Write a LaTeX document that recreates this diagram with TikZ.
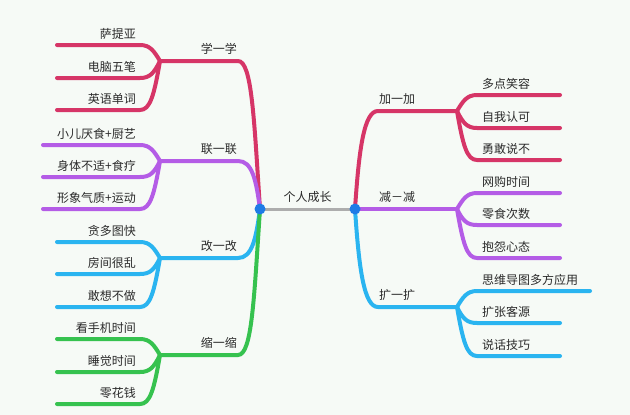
\documentclass[tikz,border=0pt]{standalone}
\usepackage{fontspec}
\setmainfont{Noto Sans CJK SC}
\usepackage{tikz}
\usetikzlibrary{positioning, calc}
\definecolor{rosebr}{HTML}{D63567}
\definecolor{lilacbr}{HTML}{B45CE6}
\definecolor{skybr}{HTML}{2AB4F0}
\definecolor{grassbr}{HTML}{36C24F}
\definecolor{hubblue}{HTML}{1E7BE6}
\definecolor{stembr}{HTML}{ADADAD}
\definecolor{bgtint}{HTML}{F6FAF6}
\definecolor{inkgray}{HTML}{2A2A2A}

\begin{document}
\begin{tikzpicture}[
  x=1pt, y=-1pt,
  txt/.style={inner sep=0pt, font=\fontsize{12}{14}\selectfont, text=inkgray},
  br/.style={line width=4pt, line cap=round},
  xuebr/.style={br, rosebr},
  lianbr/.style={br, lilacbr},
  gaibr/.style={br, skybr},
  suobr/.style={br, grassbr}
]
\fill[bgtint] (0,0) rectangle (630,415);

\coordinate (hubL) at (260,209);
\coordinate (hubR) at (355,209);

% left side
\coordinate (xue) at (238,61);   \coordinate (xueF) at (160,61);
\coordinate (xueA) at (140,45);  \coordinate (xueA0) at (57,45);
\coordinate (xueB) at (140,78);  \coordinate (xueB0) at (57,78);
\coordinate (xueC) at (140,110); \coordinate (xueC0) at (57,110);

\coordinate (lian) at (238,161);  \coordinate (lianF) at (160,161);
\coordinate (lianA) at (140,145); \coordinate (lianA0) at (43,145);
\coordinate (lianB) at (140,177); \coordinate (lianB0) at (43,177);
\coordinate (lianC) at (140,209); \coordinate (lianC0) at (43,209);

\coordinate (gai) at (238,258);  \coordinate (gaiF) at (160,258);
\coordinate (gaiA) at (140,242); \coordinate (gaiA0) at (57,242);
\coordinate (gaiB) at (140,274); \coordinate (gaiB0) at (57,274);
\coordinate (gaiC) at (140,307); \coordinate (gaiC0) at (57,307);

\coordinate (suo) at (238,355);  \coordinate (suoF) at (160,355);
\coordinate (suoA) at (140,339); \coordinate (suoA0) at (57,339);
\coordinate (suoB) at (140,372); \coordinate (suoB0) at (57,372);
\coordinate (suoC) at (140,404); \coordinate (suoC0) at (57,404);

% right side
\coordinate (jia) at (378,111);  \coordinate (jiaF) at (457,111);
\coordinate (jiaA) at (477,95);  \coordinate (jiaA0) at (560,95);
\coordinate (jiaB) at (477,128); \coordinate (jiaB0) at (560,128);
\coordinate (jiaC) at (477,160); \coordinate (jiaC0) at (560,160);

\coordinate (jian) at (378,209);  \coordinate (jianF) at (457,209);
\coordinate (jianA) at (477,193); \coordinate (jianA0) at (560,193);
\coordinate (jianB) at (477,225); \coordinate (jianB0) at (560,225);
\coordinate (jianC) at (477,258); \coordinate (jianC0) at (560,258);

\coordinate (kuo) at (378,307);  \coordinate (kuoF) at (457,307);
\coordinate (kuoA) at (477,291); \coordinate (kuoA0) at (590,291);
\coordinate (kuoB) at (477,323); \coordinate (kuoB0) at (560,323);
\coordinate (kuoC) at (477,356); \coordinate (kuoC0) at (560,356);

% branches
\draw[xuebr] (hubL) .. controls +(-6,-90) and +(14,0) .. (xue) -- (xueF);
\draw[xuebr] (xueF) .. controls +(-6,-10) and +(10,0) .. (xueA) -- (xueA0);
\draw[xuebr] (xueF) .. controls +(-6,12) and +(10,0) .. (xueB) -- (xueB0);
\draw[xuebr] (xueF) .. controls +(-6,35) and +(10,0) .. (xueC) -- (xueC0);

\draw[lianbr] (hubL) .. controls +(-4,-30) and +(14,0) .. (lian) -- (lianF);
\draw[lianbr] (lianF) .. controls +(-6,-10) and +(10,0) .. (lianA) -- (lianA0);
\draw[lianbr] (lianF) .. controls +(-6,12) and +(10,0) .. (lianB) -- (lianB0);
\draw[lianbr] (lianF) .. controls +(-6,35) and +(10,0) .. (lianC) -- (lianC0);

\draw[gaibr] (hubL) .. controls +(-4,30) and +(14,0) .. (gai) -- (gaiF);
\draw[gaibr] (gaiF) .. controls +(-6,-10) and +(10,0) .. (gaiA) -- (gaiA0);
\draw[gaibr] (gaiF) .. controls +(-6,12) and +(10,0) .. (gaiB) -- (gaiB0);
\draw[gaibr] (gaiF) .. controls +(-6,35) and +(10,0) .. (gaiC) -- (gaiC0);

\draw[suobr] (hubL) .. controls +(-6,90) and +(14,0) .. (suo) -- (suoF);
\draw[suobr] (suoF) .. controls +(-6,-10) and +(10,0) .. (suoA) -- (suoA0);
\draw[suobr] (suoF) .. controls +(-6,12) and +(10,0) .. (suoB) -- (suoB0);
\draw[suobr] (suoF) .. controls +(-6,35) and +(10,0) .. (suoC) -- (suoC0);

\draw[xuebr] (hubR) .. controls +(4,-60) and +(-14,0) .. (jia) -- (jiaF);
\draw[xuebr] (jiaF) .. controls +(6,-10) and +(-10,0) .. (jiaA) -- (jiaA0);
\draw[xuebr] (jiaF) .. controls +(6,12) and +(-10,0) .. (jiaB) -- (jiaB0);
\draw[xuebr] (jiaF) .. controls +(6,35) and +(-10,0) .. (jiaC) -- (jiaC0);

\draw[lianbr] (hubR) -- (jianF);
\draw[lianbr] (jianF) .. controls +(6,-10) and +(-10,0) .. (jianA) -- (jianA0);
\draw[lianbr] (jianF) .. controls +(6,12) and +(-10,0) .. (jianB) -- (jianB0);
\draw[lianbr] (jianF) .. controls +(6,35) and +(-10,0) .. (jianC) -- (jianC0);

\draw[gaibr] (hubR) .. controls +(4,60) and +(-14,0) .. (kuo) -- (kuoF);
\draw[gaibr] (kuoF) .. controls +(6,-10) and +(-10,0) .. (kuoA) -- (kuoA0);
\draw[gaibr] (kuoF) .. controls +(6,12) and +(-10,0) .. (kuoB) -- (kuoB0);
\draw[gaibr] (kuoF) .. controls +(6,35) and +(-10,0) .. (kuoC) -- (kuoC0);

% centre
\draw[line width=3pt, stembr] (hubL) -- (hubR);
\fill[hubblue] (hubL) circle (5.5pt);
\fill[hubblue] (hubR) circle (5.5pt);
\node[txt, above=6pt] (root) at ($(hubL)!.5!(hubR)$) {个人成长};

% labels
\node[txt, above left=6pt and 1pt of xue] (xueT) {学一学};
\node[txt, above left=5pt and 4pt of xueA] (xueAt) {萨提亚};
\node[txt, above left=5pt and 4pt of xueB] (xueBt) {电脑五笔};
\node[txt, above left=5pt and 4pt of xueC] (xueCt) {英语单词};

\node[txt, above left=6pt and 1pt of lian] (lianT) {联一联};
\node[txt, above left=5pt and 4pt of lianA] (lianAt) {小儿厌食+厨艺};
\node[txt, above left=5pt and 4pt of lianB] (lianBt) {身体不适+食疗};
\node[txt, above left=5pt and 4pt of lianC] (lianCt) {形象气质+运动};

\node[txt, above left=6pt and 1pt of gai] (gaiT) {改一改};
\node[txt, above left=5pt and 4pt of gaiA] (gaiAt) {贪多图快};
\node[txt, above left=5pt and 4pt of gaiB] (gaiBt) {房间很乱};
\node[txt, above left=5pt and 4pt of gaiC] (gaiCt) {敢想不做};

\node[txt, above left=6pt and 1pt of suo] (suoT) {缩一缩};
\node[txt, above left=5pt and 4pt of suoA] (suoAt) {看手机时间};
\node[txt, above left=5pt and 4pt of suoB] (suoBt) {睡觉时间};
\node[txt, above left=5pt and 4pt of suoC] (suoCt) {零花钱};

\node[txt, above right=6pt and 1pt of jia] (jiaT) {加一加};
\node[txt, above right=5pt and 5pt of jiaA] (jiaAt) {多点笑容};
\node[txt, above right=5pt and 5pt of jiaB] (jiaBt) {自我认可};
\node[txt, above right=5pt and 5pt of jiaC] (jiaCt) {勇敢说不};

\node[txt, above right=6pt and 1pt of jian] (jianT) {减－减};
\node[txt, above right=5pt and 5pt of jianA] (jianAt) {网购时间};
\node[txt, above right=5pt and 5pt of jianB] (jianBt) {零食次数};
\node[txt, above right=5pt and 5pt of jianC] (jianCt) {抱怨心态};

\node[txt, above right=6pt and 1pt of kuo] (kuoT) {扩一扩};
\node[txt, above right=5pt and 5pt of kuoA] (kuoAt) {思维导图多方应用};
\node[txt, above right=5pt and 5pt of kuoB] (kuoBt) {扩张客源};
\node[txt, above right=5pt and 5pt of kuoC] (kuoCt) {说话技巧};
\end{tikzpicture}
\end{document}
